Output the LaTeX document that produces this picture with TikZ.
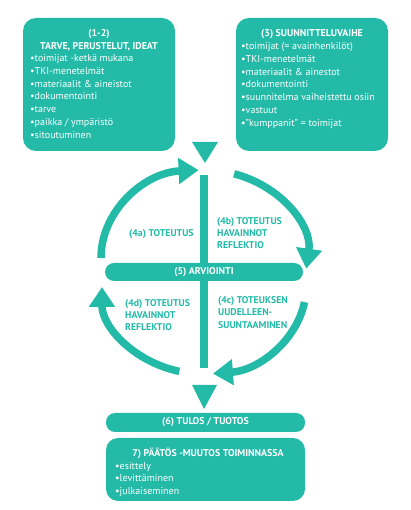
\documentclass[tikz,border=0pt]{standalone}
\usepackage{fontspec}
\setmainfont{PT Sans}
\usetikzlibrary{arrows.meta}
\definecolor{tealc}{RGB}{35,187,168}
\begin{document}
\begin{tikzpicture}[x=1pt,y=1pt,
  box/.style={fill=tealc, draw=none, rounded corners=13pt, inner sep=0pt},
  bar/.style={fill=tealc, draw=none, rounded corners=9pt, inner sep=0pt, minimum width=199pt},
  wtxt/.style={text=white, font=\fontsize{10}{12}\selectfont, inner sep=0pt, anchor=base west},
  whead/.style={text=white, font=\bfseries\fontsize{9.9}{12}\selectfont, inner sep=0pt, anchor=base},
  lbl/.style={text=tealc, font=\bfseries\fontsize{9.8}{12}\selectfont, inner sep=0pt, anchor=base west},
  flow/.style={draw=tealc, line width=7.5pt, -{Triangle[length=20pt,width=25pt]}},
  ]
\useasboundingbox (0,0) rectangle (410,510);
\fill[white] (0,0) rectangle (410,510);

% top boxes
\node[box, minimum width=152pt, minimum height=133pt] (b1) at (99,425.5) {};
\node[box, minimum width=152pt, minimum height=133pt] (b2) at (312,425.5) {};

\node[whead] (h1a) at (99,473.5) {(1-2)};
\node[whead] (h1b) at (99,460.5) {TARVE, PERUSTELUT, IDEAT};
\foreach \t [count=\i from 0] in {{toimijat -ketkä mukana},{TKI-menetelmät},{materiaalit \& aineistot},{dokumentointi},{tarve},{paikka / ympäristö},{sitoutuminen}}
  \node[wtxt] (l1-\i) at (30,448.5-12.8*\i) {•\t};

\node[whead] (h2) at (312,473.5) {(3) SUUNNITTELUVAIHE};
\foreach \t [count=\i from 0] in {{toimijat (= avainhenkilöt)},{TKI-menetelmät},{materiaalit \& ainestot},{dokumentointi},{suunnitelma vaiheistettu osiin},{vastuut},{”kumppanit” = toimijat}}
  \node[wtxt] (l2-\i) at (241,460.5-12.8*\i) {•\t};

% top triangle and vertical line
\fill[tealc] (192,368) -- (218,368) -- (205,347) -- cycle;
\coordinate (vtop) at (204,335);
\coordinate (vbot) at (204,142);
\draw[tealc, line width=8pt] (vtop) -- (vbot);

% arvionti bar
\node[bar, minimum width=198pt, minimum height=18pt] (arv) at (204,238) {};
\node[whead, anchor=center] (arvt) at (arv.center) {(5) ARVIOINTI};

% arcs
\draw[flow] (101,252) arc[start angle=180, end angle=93, x radius=103, y radius=88];
\draw[flow] (234.1,336.2) arc[start angle=73, end angle=-7, x radius=103, y radius=88];
\draw[flow] (179.3,138.6) arc[start angle=256, end angle=180, x radius=102, y radius=87];
\draw[flow] (304.5,207.9) arc[start angle=-10, end angle=-85, x radius=102, y radius=87];

% labels
\node[lbl] (l4a) at (129,273.5) {(4a) TOTEUTUS};
\node[lbl] (l4b1) at (217,285.5) {(4b) TOTEUTUS};
\node[lbl] (l4b2) at (217,273.5) {HAVAINNOT};
\node[lbl] (l4b3) at (217,261.5) {REFLEKTIO};
\node[lbl] (l4d1) at (125,203) {(4d) TOTEUTUS};
\node[lbl] (l4d2) at (125,191) {HAVAINNOT};
\node[lbl] (l4d3) at (125,179) {REFLEKTIO};
\node[lbl] (l4c1) at (218,206.5) {(4c) TOTEUKSEN};
\node[lbl] (l4c2) at (218,194) {UUDELLEEN-};
\node[lbl] (l4c3) at (218,181.5) {SUUNTAAMINEN};

% bottom triangle
\fill[tealc] (192,125) -- (217,125) -- (204,101) -- cycle;

% tulos bar
\node[bar, minimum height=19pt] (tulos) at (205.5,87.5) {};
\node[whead, anchor=center] (tulost) at (tulos.center) {(6) TULOS / TUOTOS};

% box 7
\node[box, rounded corners=12pt, minimum width=199pt, minimum height=63pt] (b7) at (205.5,40.5) {};
\node[whead] (h7) at (208,53.5) {7) PÄÄTÖS -MUUTOS TOIMINNASSA};
\foreach \t [count=\i from 0] in {{esittely},{levittäminen},{julkaiseminen}}
  \node[wtxt] (l7-\i) at (115,40.5-12.5*\i) {•\t};
\end{tikzpicture}
\end{document}
